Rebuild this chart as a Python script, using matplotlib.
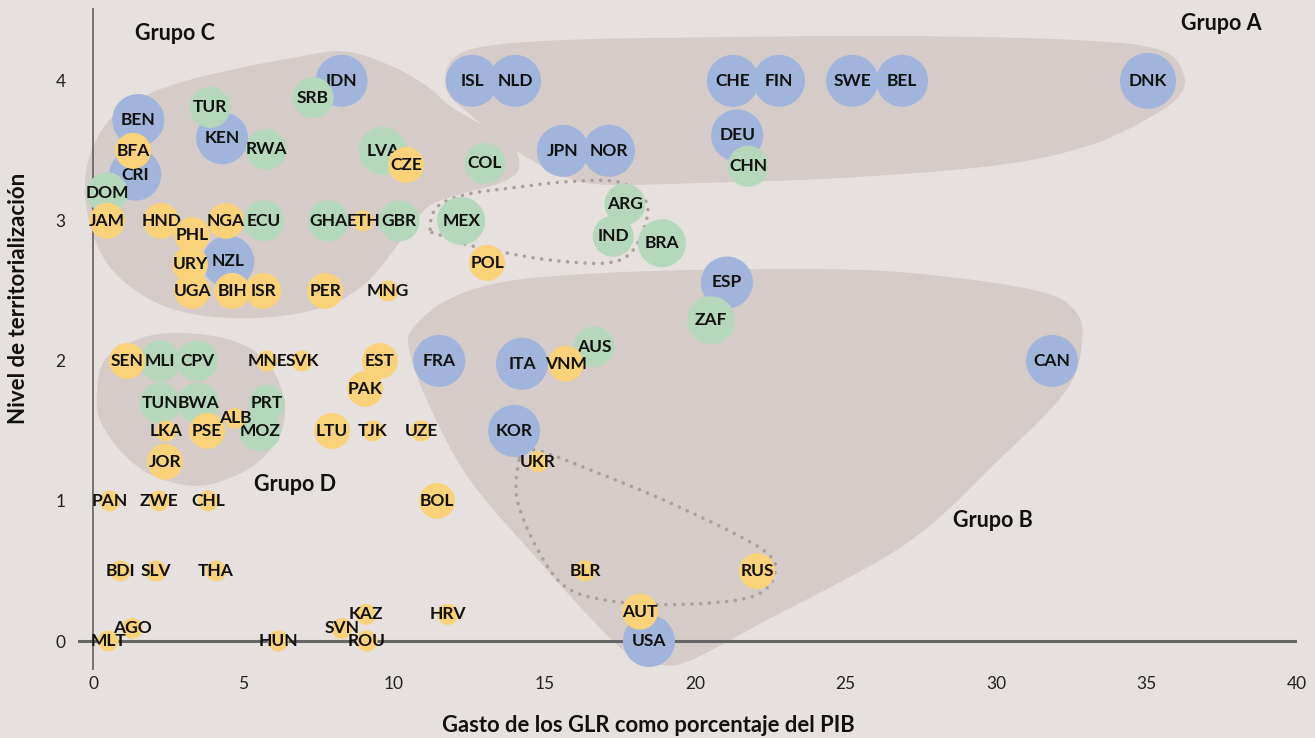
import numpy as np
import matplotlib
matplotlib.use("Agg")
import matplotlib.pyplot as plt
from matplotlib.patches import Polygon

# datos: gasto de los GLR (% del PIB) y nivel de territorialización
paises = ["IDN", "BEN", "KEN", "CRI", "NZL", "ISL", "NLD", "CHE", "FIN", "SWE", "BEL",
          "DNK", "JPN", "NOR", "DEU", "ESP", "FRA", "ITA", "CAN", "KOR", "USA",
          "SRB", "TUR", "RWA", "DOM", "LVA", "ECU", "GHA", "GBR", "MEX", "COL", "CHN",
          "ARG", "IND", "BRA", "AUS", "ZAF", "MLI", "CPV", "TUN", "BWA", "PRT", "MOZ",
          "BFA", "CZE", "JAM", "HND", "PHL", "NGA", "URY", "UGA", "BIH", "ISR", "PER",
          "POL", "VNM", "SEN", "EST", "PAK", "PSE", "LTU", "JOR", "BOL", "RUS", "AUT",
          "MNG", "ETH", "UKR", "UZE", "BLR", "HRV", "MNE", "SVK", "ALB", "LKA", "TJK",
          "PAN", "ZWE", "CHL", "BDI", "SLV", "THA", "KAZ", "AGO", "SVN", "MLT", "HUN", "ROU"]
gasto = [8.26, 1.50, 4.29, 1.40, 4.49, 12.59, 14.02, 21.26, 22.79, 25.22, 26.88,
         35.05, 15.61, 17.14, 21.40, 21.06, 11.50, 14.25, 31.86, 13.99, 18.47,
         7.31, 3.89, 5.75, 0.47, 9.63, 5.68, 7.81, 10.17, 12.23, 13.02, 21.76,
         17.67, 17.28, 18.90, 16.64, 20.53, 2.23, 3.46, 2.23, 3.49, 5.78, 5.55,
         1.33, 10.40, 0.47, 2.26, 3.29, 4.42, 3.22, 3.29, 4.62, 5.65, 7.71,
         13.09, 15.71, 1.13, 9.53, 9.04, 3.79, 7.94, 2.39, 11.43, 22.06, 18.17,
         9.80, 8.97, 14.78, 10.90, 16.35, 11.79, 5.78, 6.94, 4.72, 2.43, 9.30,
         0.56, 2.19, 3.82, 0.90, 2.09, 4.09, 9.07, 1.30, 8.27, 0.50, 6.15, 9.10]
nivel = [4.00, 3.72, 3.59, 3.33, 2.71, 4.00, 4.00, 4.00, 4.00, 4.00, 4.00,
         4.00, 3.50, 3.50, 3.61, 2.56, 2.00, 1.98, 2.00, 1.50, 0.00,
         3.88, 3.81, 3.51, 3.20, 3.50, 3.00, 3.00, 3.00, 3.00, 3.41, 3.39,
         3.12, 2.89, 2.84, 2.10, 2.29, 2.00, 2.00, 1.70, 1.70, 1.70, 1.50,
         3.50, 3.40, 3.00, 3.00, 2.90, 3.00, 2.69, 2.50, 2.50, 2.50, 2.50,
         2.70, 1.98, 2.00, 2.00, 1.80, 1.50, 1.50, 1.28, 1.00, 0.50, 0.21,
         2.50, 3.00, 1.28, 1.50, 0.50, 0.19, 2.00, 2.00, 1.59, 1.50, 1.50,
         1.00, 1.00, 1.00, 0.50, 0.50, 0.50, 0.19, 0.09, 0.09, 0.00, 0.00, 0.00]
# ingreso: a = alto, m = medio, b = bajo
ingreso = ["a"] * 21 + ["m"] * 22 + ["b"] * 45
# tamaño relativo de la burbuja (1 = pequeña ... 6 = grande)
peso = ([5] * 11 + [6] + [5] * 9
        + [3, 3, 3, 3, 4, 3, 3, 3, 4, 3, 3, 3, 3, 4, 3, 4, 3, 3, 3, 3, 2, 3]
        + [2] * 22 + [1] * 23)

grupos = ["Grupo A", "Grupo B", "Grupo C", "Grupo D"]
grupos_x = [37.47, 29.9, 2.72, 6.71]
grupos_y = [4.41, 0.86, 4.34, 1.12]

# contornos aproximados de los grupos
zona_a = [(11.69, 4.01), (11.93, 4.15), (12.86, 4.24), (15.51, 4.29), (20.17, 4.31),
          (26.81, 4.32), (32.79, 4.29), (35.45, 4.22), (36.21, 4.06), (36.11, 3.90),
          (35.12, 3.74), (33.12, 3.54), (30.13, 3.40), (25.15, 3.31), (20.17, 3.27),
          (16.84, 3.26), (15.51, 3.33), (14.52, 3.44), (13.52, 3.58), (12.36, 3.79),
          (11.86, 3.89)]
zona_b = [(10.66, 2.24), (10.50, 2.08), (11.13, 1.70), (12.49, 1.16), (14.78, 0.58),
          (17.08, 0.04), (18.17, -0.14), (18.84, -0.17), (19.83, -0.14), (22.39, 0.15),
          (26.98, 0.69), (30.03, 1.28), (32.33, 1.79), (32.86, 2.15), (32.62, 2.36),
          (31.56, 2.49), (28.80, 2.59), (25.45, 2.65), (20.17, 2.65), (16.31, 2.62),
          (13.52, 2.56), (11.73, 2.43)]
zona_c = [(-0.27, 3.22), (-0.03, 3.51), (0.73, 3.76), (2.23, 3.94), (4.22, 4.06),
          (6.54, 4.16), (8.37, 4.21), (9.97, 4.10), (11.10, 3.96), (11.93, 3.81),
          (13.19, 3.65), (14.02, 3.51), (14.12, 3.36), (13.52, 3.27), (12.19, 3.19),
          (11.13, 3.10), (10.37, 2.90), (9.70, 2.71), (8.97, 2.54), (7.87, 2.40),
          (6.21, 2.32), (4.22, 2.31), (2.39, 2.39), (0.90, 2.59), (0.07, 2.86)]
zona_d = [(0.13, 1.77), (0.40, 2.01), (1.56, 2.16), (2.89, 2.20), (4.55, 2.15),
          (5.71, 2.01), (6.31, 1.76), (6.28, 1.51), (5.55, 1.29), (4.39, 1.15),
          (3.22, 1.11), (1.89, 1.19), (0.90, 1.36), (0.23, 1.58)]
punteado_1 = [(11.20, 2.94), (11.43, 3.10), (12.43, 3.19), (14.09, 3.24), (15.75, 3.28),
              (17.41, 3.28), (18.27, 3.17), (18.41, 3.03), (17.94, 2.79), (17.08, 2.70),
              (15.18, 2.72), (13.52, 2.78), (12.43, 2.83), (11.53, 2.90)]
punteado_2 = [(14.15, 1.29), (14.09, 1.01), (14.78, 0.65), (15.68, 0.39), (17.08, 0.29),
              (19.34, 0.26), (21.79, 0.31), (22.62, 0.46), (22.26, 0.65), (19.34, 0.97),
              (16.31, 1.24), (14.78, 1.36), (14.35, 1.35)]

fondo = "#e6e1de"
gris_zona = "#d5cbc9"
colores = {"a": "#a1b5dc", "m": "#b5d8bc", "b": "#f9d27a"}
radio_px = {1: 10.5, 2: 18, 3: 20.5, 4: 24, 5: 26, 6: 28}


def contorno(pts, n=24):
    # curva cerrada suave (Catmull-Rom) a partir de los puntos de control
    p = np.array(pts, dtype=float)
    k = len(p)
    t = np.linspace(0, 1, n, endpoint=False)[:, None]
    tramos = []
    for i in range(k):
        p0, p1, p2, p3 = p[i - 1], p[i], p[(i + 1) % k], p[(i + 2) % k]
        tramos.append(0.5 * (2 * p1 + (-p0 + p2) * t
                             + (2 * p0 - 5 * p1 + 4 * p2 - p3) * t ** 2
                             + (-p0 + 3 * p1 - 3 * p2 + p3) * t ** 3))
    c = np.vstack(tramos)
    return np.vstack([c, c[:1]])


plt.rcParams["font.family"] = ["Lato", "DejaVu Sans"]
fig = plt.figure(figsize=(13.15, 7.38), dpi=100, facecolor=fondo)
ax = fig.add_axes([78 / 1315, 1 - 670 / 738, 1219 / 1315, 662 / 738])
ax.set_facecolor(fondo)
ax.set_xlim(-0.5, 40)
ax.set_ylim(-0.207, 4.52)

for zona in [zona_a, zona_b, zona_c, zona_d]:
    ax.add_patch(Polygon(contorno(zona), closed=True, facecolor=gris_zona,
                         edgecolor="none", zorder=1))

for linea in [punteado_1, punteado_2]:
    c = contorno(linea)
    ax.plot(c[:, 0], c[:, 1], color="#ab9f9d", lw=2.6,
            linestyle=(0, (0.01, 2.4)), dash_capstyle="round", zorder=2)

ax.plot([0, 0], [-0.207, 4.52], color="#555555", lw=1.1, zorder=2)
ax.axhline(0, color="#666666", lw=2.2, zorder=3)

for i, p in enumerate(paises):
    r = radio_px[peso[i]] * 0.72
    ax.scatter(gasto[i], nivel[i], s=(2 * r) ** 2, color=colores[ingreso[i]],
               edgecolors="none", zorder=10 + 2 * i)
    ax.text(gasto[i], nivel[i], p, ha="center", va="center", fontsize=12.5,
            fontweight="bold", color="#111111", zorder=11 + 2 * i)

for g, gx, gy in zip(grupos, grupos_x, grupos_y):
    ax.text(gx, gy, g, ha="center", va="center", fontsize=15.5,
            fontweight="bold", color="#111111", zorder=300)

for s in ax.spines.values():
    s.set_visible(False)
ax.set_xticks(range(0, 41, 5))
ax.set_yticks(range(0, 5))
ax.tick_params(length=0, labelsize=12.5, labelcolor="#222222")
ax.tick_params(axis="x", pad=4)
ax.tick_params(axis="y", pad=9)

fig.text(19 / 1315, 1 - 298 / 738, "Nivel de territorialización", rotation=90,
         ha="center", va="center", fontsize=16, fontweight="bold", color="#111111")
fig.text(648 / 1315, 1 - 726 / 738, "Gasto de los GLR como porcentaje del PIB",
         ha="center", va="center", fontsize=15.8, fontweight="bold", color="#111111")

fig.savefig("out.png", dpi=100, facecolor=fondo)
